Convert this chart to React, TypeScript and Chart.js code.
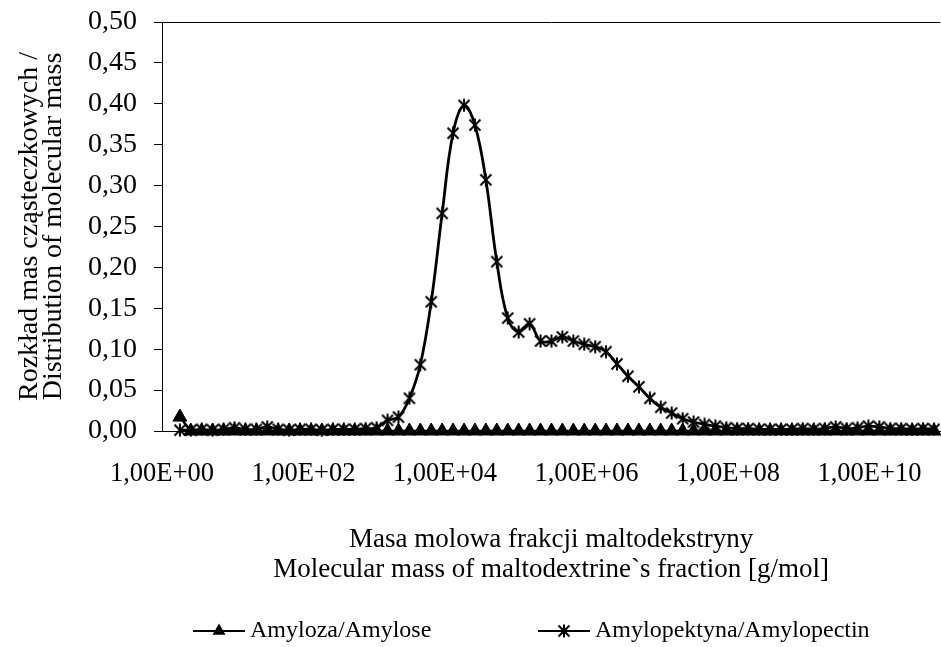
import React, { useEffect, useRef } from 'react';
import { Chart, registerables } from 'chart.js';

Chart.register(...registerables);

// ---- data ----
const molecularMass = [
  1.79, 2.55, 3.64, 5.19, 7.41, 10.6, 15.1, 21.6, 30.8, 43.9,
  62.7, 89.4, 128, 182, 260, 371, 530, 756, 1080, 1540,
  2200, 3140, 4480, 6390, 9120, 13000, 18600, 26500, 37800, 54000,
  77100, 110000, 157000, 224000, 320000, 456000, 652000, 930000, 1330000, 1890000,
  2700000, 3860000, 5510000, 7860000, 11200000, 16000000, 22900000, 32600000, 46600000, 66500000,
  94800000, 1.35e8, 1.93e8, 2.76e8, 3.94e8, 5.62e8, 8.02e8, 1.14e9, 1.63e9, 2.33e9,
  3.33e9, 4.75e9, 6.78e9, 9.67e9, 1.38e10, 1.97e10, 2.81e10, 4.01e10, 5.73e10, 8.18e10,
];

const amylose = [
  0.017, 0, 0, 0, 0, 0, 0, 0, 0, 0,
  0, 0, 0, 0, 0, 0, 0, 0, 0, 0,
  0, 0, 0, 0, 0, 0, 0, 0, 0, 0,
  0, 0, 0, 0, 0, 0, 0, 0, 0, 0,
  0, 0, 0, 0, 0, 0, 0, 0, 0, 0,
  0, 0, 0, 0, 0, 0, 0, 0, 0, 0,
  0, 0, 0, 0, 0, 0, 0, 0, 0, 0,
];

const amylopectin = [
  0.001, 0.001, 0.002, 0.001, 0.002, 0.004, 0.002, 0.002, 0.005, 0.002,
  0.001, 0.002, 0.002, 0.001, 0.002, 0.002, 0.002, 0.003, 0.004, 0.013,
  0.017, 0.040, 0.081, 0.158, 0.266, 0.364, 0.398, 0.374, 0.307, 0.207,
  0.138, 0.121, 0.131, 0.110, 0.110, 0.115, 0.110, 0.106, 0.103, 0.097,
  0.082, 0.067, 0.054, 0.040, 0.029, 0.022, 0.015, 0.011, 0.008, 0.006,
  0.004, 0.003, 0.003, 0.002, 0.002, 0.002, 0.002, 0.003, 0.002, 0.003,
  0.005, 0.003, 0.004, 0.006, 0.005, 0.003, 0.003, 0.002, 0.003, 0.002,
];

const xTickExponents = [0, 2, 4, 6, 8, 10];
const seriesLabels = ['Amyloza/Amylose', 'Amylopektyna/Amylopectin'];
const xTitle = ['Masa molowa frakcji maltodekstryny', 'Molecular mass of maltodextrine`s fraction [g/mol]'];
const yTitle = ['Rozkład mas cząsteczkowych /', 'Distribution of molecular mass'];

const FAMILY = "'Liberation Serif', 'Times New Roman', serif";

function makeStar(size: number, lw: number): HTMLCanvasElement {
  const c = document.createElement('canvas');
  c.width = size;
  c.height = size;
  const g = c.getContext('2d')!;
  g.strokeStyle = '#000';
  g.lineWidth = lw;
  const m = 1.5;
  const s = size - 1.5;
  g.beginPath();
  g.moveTo(m, m);
  g.lineTo(s, s);
  g.moveTo(s, m);
  g.lineTo(m, s);
  g.moveTo(size / 2, 0.5);
  g.lineTo(size / 2, size - 0.5);
  g.stroke();
  return c;
}

function formatExp(v: number): string {
  const e = Math.round(Math.log10(Number(v)));
  return '1,00E+' + (e < 10 ? '0' + e : String(e));
}

export default function App() {
  const ref = useRef<HTMLCanvasElement>(null);

  useEffect(() => {
    document.body.style.margin = '0';
    const star = makeStar(14, 2);

    const legendPlugin = {
      id: 'bottomLegend',
      afterDraw(chart: any) {
        const ctx = chart.ctx as CanvasRenderingContext2D;
        ctx.save();
        ctx.strokeStyle = '#000';
        ctx.fillStyle = '#000';
        ctx.lineWidth = 2;
        ctx.font = `24px ${FAMILY}`;
        ctx.textBaseline = 'middle';
        const y = 631;
        // item 1
        ctx.beginPath();
        ctx.moveTo(193, y);
        ctx.lineTo(245, y);
        ctx.stroke();
        const r = 7.5;
        ctx.beginPath();
        ctx.moveTo(219, y - r);
        ctx.lineTo(219 + r * 0.866, y + r / 2);
        ctx.lineTo(219 - r * 0.866, y + r / 2);
        ctx.closePath();
        ctx.fill();
        ctx.fillText(seriesLabels[0], 250, y);
        // item 2
        ctx.beginPath();
        ctx.moveTo(538, y);
        ctx.lineTo(590, y);
        ctx.stroke();
        ctx.drawImage(star, 564 - 7, y - 7);
        ctx.fillText(seriesLabels[1], 595, y);
        ctx.restore();
      },
    };

    const chart = new Chart(ref.current!, {
      type: 'line',
      data: {
        datasets: [
          {
            label: seriesLabels[0],
            data: molecularMass.map((m, i) => ({ x: m, y: amylose[i] })),
            borderColor: '#000',
            backgroundColor: '#000',
            borderWidth: 2.5,
            pointStyle: 'triangle',
            pointRadius: 8,
            pointBorderWidth: 1,
            pointBorderColor: '#000',
            pointBackgroundColor: '#000',
            tension: 0,
            order: 2,
            clip: false,
          },
          {
            label: seriesLabels[1],
            data: molecularMass.map((m, i) => ({ x: m, y: amylopectin[i] })),
            borderColor: '#000',
            backgroundColor: '#000',
            borderWidth: 2.8,
            pointStyle: star as any,
            pointRadius: 7,
            tension: 0.4,
            order: 1,
            clip: false,
          },
        ],
      },
      options: {
        responsive: false,
        animation: false,
        devicePixelRatio: 1,
        layout: { padding: { left: 0, top: 22, right: 3, bottom: 57 } },
        plugins: {
          legend: { display: false },
          tooltip: { enabled: false },
        },
        scales: {
          x: {
            type: 'logarithmic',
            min: 1,
            max: 1e11,
            afterBuildTicks: (s: any) => {
              s.ticks = xTickExponents.map((e) => ({ value: Math.pow(10, e) }));
            },
            afterFit: (s: any) => {
              s.height = 159;
            },
            grid: { display: true, drawOnChartArea: false, drawTicks: false },
            border: { display: true, color: '#000', width: 1 },
            ticks: {
              autoSkip: false,
              maxRotation: 0,
              minRotation: 0,
              padding: 27,
              color: '#000',
              font: { family: FAMILY, size: 26.5 },
              callback: (v: any) => formatExp(v),
            },
            title: {
              display: true,
              text: xTitle,
              color: '#000',
              font: { family: FAMILY, size: 27, lineHeight: '30px' },
              padding: { top: 0, bottom: 5 },
            },
          },
          y: {
            min: 0,
            max: 0.5,
            afterFit: (s: any) => {
              s.width = 162;
              s.paddingTop = 0;
              s.paddingBottom = 0;
            },
            ticks: {
              stepSize: 0.05,
              padding: 17,
              color: '#000',
              font: { family: FAMILY, size: 28 },
              callback: (v: any) => Number(v).toFixed(2).replace('.', ','),
            },
            grid: {
              drawOnChartArea: true,
              color: (c: any) => (c.tick && Math.abs(c.tick.value - 0.5) < 1e-9 ? '#000' : 'rgba(0,0,0,0)'),
              tickColor: '#000',
              tickLength: 8,
              lineWidth: 1,
            },
            border: { display: true, color: '#000', width: 1 },
            title: {
              display: true,
              text: yTitle,
              color: '#000',
              font: { family: FAMILY, size: 28, lineHeight: '24px' },
              padding: { top: 18, bottom: 0 },
            },
          },
        },
      },
      plugins: [legendPlugin],
    } as any);

    return () => chart.destroy();
  }, []);

  return (
    <div style={{ width: 941, height: 647, overflow: 'hidden', position: 'relative' }}>
      <canvas ref={ref} width={950} height={647} style={{ display: 'block', width: 950, height: 647 }} />
    </div>
  );
}
